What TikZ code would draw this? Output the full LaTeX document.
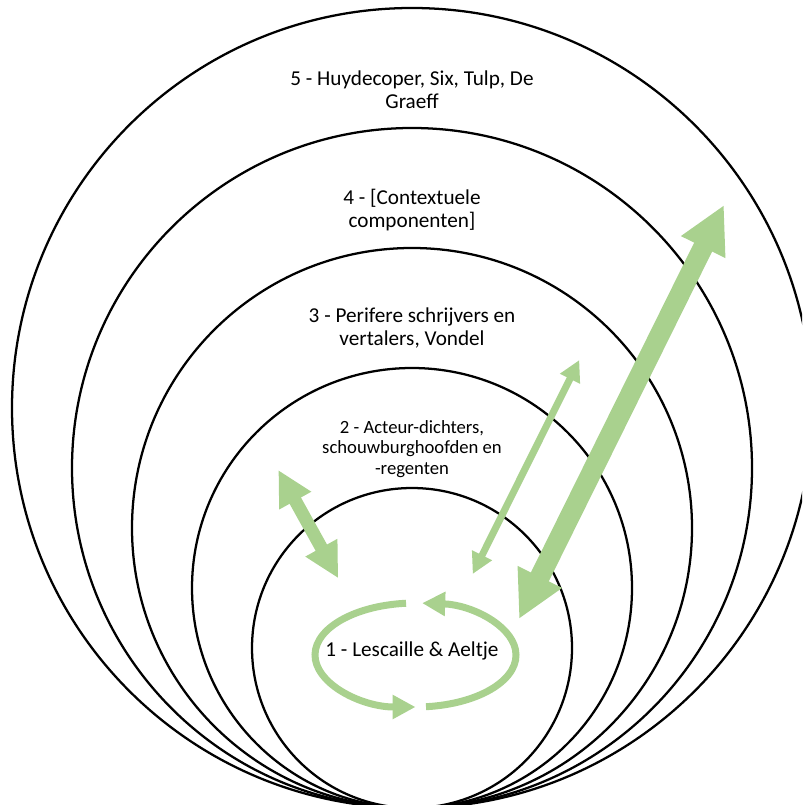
\documentclass[tikz,border=0pt]{standalone}
\usepackage{fontspec}
\setmainfont{Carlito}
\usetikzlibrary{arrows.meta}
\definecolor{leafgreen}{HTML}{A9D18E}
\begin{document}
\begin{tikzpicture}[x=0.75pt,y=-0.75pt,
  ring/.style={circle,draw=black,line width=1.7pt,inner sep=0pt,outer sep=0pt},
  biglabel/.style={align=center,inner sep=0pt,font=\fontsize{15.9pt}{17pt}\selectfont},
  smalllabel/.style={align=center,inner sep=0pt,font=\fontsize{14pt}{15.4pt}\selectfont},
  flowline/.style={draw=leafgreen,line width=#1}]
\useasboundingbox (0,0) rectangle (802,805);
\clip (0,0) rectangle (802,805);

% nested rings, all touching at the bottom
\node[ring,minimum size=600pt] (r5) at (412,408) {};
\node[ring,minimum size=510pt] (r4) at (412,468) {};
\node[ring,minimum size=420pt] (r3) at (412,528) {};
\node[ring,minimum size=330pt] (r2) at (412,588) {};
\node[ring,minimum size=240pt] (r1) at (412,648) {};

% ring labels
\node[biglabel] (t5) at (412,90) {5 - Huydecoper, Six, Tulp, De\\Graeff};
\node[biglabel] (t4) at (412,210) {4 - [Contextuele\\componenten]};
\node[biglabel] (t3) at (412,328) {3 - Perifere schrijvers en\\vertalers, Vondel};
\node[smalllabel] (t2) at (412,449) {2 - Acteur-dichters,\\schouwburghoofden en\\-regenten};
\node[biglabel] (t1) at (412,651) {1 - Lescaille \& Aeltje};

% two-way arrows between the rings
\coordinate (a1) at (278.3,470);
\coordinate (a2) at (338.3,578.3);
\draw[flowline=9.75pt,{Triangle[length=26.25pt,width=25.5pt]}-{Triangle[length=26.25pt,width=25.5pt]}] (a1) -- (a2);

\coordinate (m1) at (472.7,574);
\coordinate (m2) at (579.3,360);
\draw[flowline=5.25pt,{Triangle[length=15.75pt,width=15.75pt]}-{Triangle[length=15.75pt,width=15.75pt]}] (m1) -- (m2);

\coordinate (b1) at (519,619);
\coordinate (b2) at (724,205);
\draw[flowline=15pt,{Triangle[length=35.25pt,width=34.5pt]}-{Triangle[length=35.25pt,width=34.5pt]}] (b1) -- (b2);

% circulating arrows round the core label
\coordinate (loop) at (415.5,655);
\draw[flowline=5.25pt,-{Triangle[length=17.25pt,width=17.25pt]}]
  (loop) ++(-95.4:100.5 and 52) arc[start angle=-95.4,end angle=-270,x radius=100.5,y radius=52];
\draw[flowline=5.25pt,-{Triangle[length=17.25pt,width=17.25pt]}]
  (loop) ++(84:100.5 and 52) arc[start angle=84,end angle=-86.2,x radius=100.5,y radius=52];
\end{tikzpicture}
\end{document}
